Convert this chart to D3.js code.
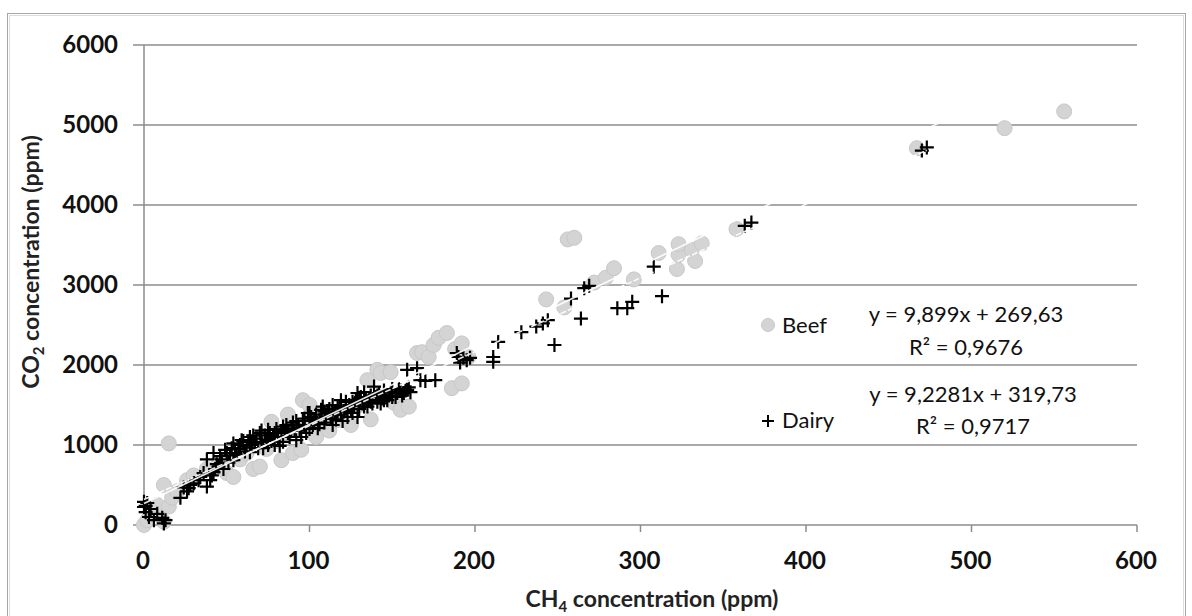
<!DOCTYPE html>
<html>
<head>
<meta charset="utf-8">
<script src="https://cdn.jsdelivr.net/npm/d3@7"></script>
<style>
body { margin: 0; background: #fff; }
text { font-family: Lato, "Open Sans", sans-serif; }
</style>
</head>
<body>
<div id="chart"></div>
<script>
// CH4 (x) vs CO2 (y)
var beef = [[0,0],[2,60],[8,250],[12,40],[12,500],[15,230],[17,340],[15,1020],[20,420],[26,560],
    [30,620],[38,700],[45,760],[50,650],[54,600],[58,820],[62,900],[66,700],[70,730],[74,950],
    [77,1290],[80,1050],[83,810],[86,1150],[87,1380],[90,900],[95,940],[96,1560],[98,1250],[100,1500],
    [104,1100],[108,1300],[112,1180],[117,1310],[120,1450],[125,1250],[130,1500],[135,1810],[137,1320],[141,1940],
    [143,1900],[149,1910],[151,1530],[155,1440],[160,1480],[165,2150],[168,2160],[172,2100],[175,2250],[178,2340],
    [183,2400],[186,1710],[188,2200],[192,1770],[192,2270],[196,2100],[243,2820],[254,2720],[256,3570],[260,3590],
    [272,3030],[279,3090],[284,3210],[296,3070],[311,3400],[322,3200],[323,3380],[323,3510],[331,3440],[333,3300],
    [337,3520],[358,3700],[467,4710],[520,4960],[556,5170]];

var dairy = [[0,290],[0,225],[1,160],[2,275],[3,100],[4,200],[6,60],[8,140],[11,90],[12,20],[13,60],[1,240],
    [22,340],[24,470],[27,460],[30,520],[34,600],[38,480],[40,560],[42,660],[42,900],[45,730],[47,820],[50,900],
    [52,870],[54,1020],[54,810],[57,950],[60,1050],[62,980],[64,1100],[64,910],[67,1020],[70,1150],[72,960],[75,1190],
    [75,1000],[78,1100],[80,1200],[82,990],[84,1230],[84,1040],[87,1150],[90,1280],[92,1060],[95,1100],[97,1330],[99,1400],
    [100,1200],[103,1300],[105,1210],[107,1440],[108,1480],[110,1350],[111,1400],[114,1500],[114,1250],[117,1420],[119,1560],
    [120,1300],[122,1540],[123,1350],[125,1450],[127,1500],[129,1650],[129,1350],[131,1600],[133,1660],[135,1480],[138,1520],
    [139,1730],[141,1540],[143,1600],[143,1520],[145,1560],[147,1560],[148,1620],[150,1600],[153,1650],[155,1680],[157,1650],
    [159,1690],[159,1940],[161,1660],[165,1960],[167,1810],[170,1800],[176,1810],[189,2150],[191,2030],[193,2090],[195,2060],
    [197,2090],[190,2100],[211,2040],[211,2100],[214,2290],[228,2410],[237,2480],[241,2520],[244,2560],[248,2250],[258,2830],
    [264,2580],[266,2960],[269,2990],[286,2710],[292,2710],[295,2790],[308,3230],[313,2860],[363,3740],[367,3780],[470,4680],
    [473,4720],
    [36,650],[44,760],[48,700],[56,880],[58,1000],[61,920],[65,1000],[68,1080],[71,1040],[73,1120],[77,1050],[79,1150],
    [81,1100],[85,1180],[88,1100],[91,1180],[93,1250],[96,1300],[98,1150],[101,1350],[102,1250],[106,1320],[109,1280],
    [112,1450],[115,1380],[116,1320],[118,1460],[121,1420],[124,1500],[126,1400],[128,1560],[130,1450],[132,1520],[134,1580],
    [136,1560],[137,1620],[140,1600],[142,1650],[144,1580],[146,1620],[149,1660],[152,1600],[154,1700],[156,1620],[158,1680],[160,1720],
    [46,860],[49,940],[51,780],[53,960],[55,900],[59,1060],[63,1040],[66,1120],[69,960],[71,1180],[74,1060],[76,1150],
    [79,1000],[83,1170],[86,1250],[89,1200],[92,1300],[94,1180],[97,1230],[100,1400],[104,1380],[106,1260],[109,1420],
    [113,1330],[117,1480],[119,1380],[122,1460],[126,1540],[130,1580],[133,1480],[137,1540],[141,1620],[145,1680],[150,1700],
    [38,820],[41,620],[33,560],[28,500],[26,420],[43,700]];

var xTicks = [0,100,200,300,400,500,600];
var yTicks = [0,1000,2000,3000,4000,5000,6000];
var beefFit = {slope: 9.899, intercept: 269.63, xmin: 0, xmax: 556};
var dairyFit = {slope: 9.2281, intercept: 319.73, xmin: 0, xmax: 473};
var beefEq = ["y = 9,899x + 269,63", "R² = 0,9676"];
var dairyEq = ["y = 9,2281x + 319,73", "R² = 0,9717"];

var W = 1192, H = 616;
var margin = {top: 45, right: 55, bottom: 91, left: 144},
    width = 1137 - margin.left,
    height = 525 - margin.top;

var svg = d3.select("#chart").append("svg")
    .attr("width", W)
    .attr("height", H);

// chart frame
svg.append("rect")
    .attr("x", 7.5).attr("y", 13.5)
    .attr("width", 1178).attr("height", 640)
    .attr("fill", "none").attr("stroke", "#a6a6a6").attr("stroke-width", 1);
svg.append("rect")
    .attr("x", 9.5).attr("y", 15.5)
    .attr("width", 1174).attr("height", 640)
    .attr("fill", "none").attr("stroke", "#dcdcdc").attr("stroke-width", 1);

var g = svg.append("g")
    .attr("transform", "translate(" + margin.left + "," + margin.top + ")");

var xScale = d3.scaleLinear().domain([0, 600]).range([0, width]);
var yScale = d3.scaleLinear().domain([0, 6000]).range([height, 0]);

// gridlines
g.selectAll(".grid")
    .data(yTicks)
    .enter().append("line")
    .attr("class", "grid")
    .attr("x1", -11).attr("x2", width)
    .attr("y1", d => yScale(d)).attr("y2", d => yScale(d))
    .attr("stroke", "#8c8c8c").attr("stroke-width", 1.5);

// y axis line
g.append("line")
    .attr("x1", 0).attr("x2", 0)
    .attr("y1", 0).attr("y2", height)
    .attr("stroke", "#8c8c8c").attr("stroke-width", 1.5);

// x ticks
g.selectAll(".xtick")
    .data(xTicks)
    .enter().append("line")
    .attr("x1", d => xScale(d)).attr("x2", d => xScale(d))
    .attr("y1", height).attr("y2", height + 7)
    .attr("stroke", "#8c8c8c").attr("stroke-width", 1.5);

g.selectAll(".xlab")
    .data(xTicks)
    .enter().append("text")
    .attr("x", d => xScale(d) - 1)
    .attr("y", height + 44)
    .attr("text-anchor", "middle")
    .attr("font-size", 24).attr("font-weight", 700).attr("fill", "#111")
    .text(d => d);

g.selectAll(".ylab")
    .data(yTicks)
    .enter().append("text")
    .attr("x", -26)
    .attr("y", d => yScale(d) + 8)
    .attr("text-anchor", "end")
    .attr("font-size", 24).attr("font-weight", 700).attr("fill", "#111")
    .text(d => d);

// axis titles
svg.append("text")
    .attr("x", 652).attr("y", 607)
    .attr("text-anchor", "middle")
    .attr("font-size", 23).attr("font-weight", 700).attr("fill", "#222")
    .html('CH<tspan font-size="15" dy="5">4</tspan><tspan dy="-5"> concentration (ppm)</tspan>');

svg.append("text")
    .attr("transform", "translate(39,262) rotate(-90)")
    .attr("text-anchor", "middle")
    .attr("font-size", 23).attr("font-weight", 700).attr("fill", "#222")
    .html('CO<tspan font-size="15" dy="5">2</tspan><tspan dy="-5"> concentration (ppm)</tspan>');

// beef circles
g.selectAll(".beef")
    .data(beef)
    .enter().append("circle")
    .attr("class", "beef")
    .attr("cx", d => xScale(d[0]))
    .attr("cy", d => yScale(d[1]))
    .attr("r", 7.5)
    .attr("fill", "#d4d4d4")
    .attr("stroke", "#c8c8c8").attr("stroke-width", 1);

// dairy pluses
var plus = "M-7,0H7M0,-7V7";
g.selectAll(".dairy")
    .data(dairy)
    .enter().append("path")
    .attr("class", "dairy")
    .attr("d", plus)
    .attr("transform", d => "translate(" + xScale(d[0]) + "," + yScale(d[1]) + ")")
    .attr("stroke", "#000").attr("stroke-width", 2.2).attr("fill", "none");

// trendlines
function fitLine(f, dash) {
    g.append("line")
        .attr("x1", xScale(f.xmin)).attr("y1", yScale(f.slope * f.xmin + f.intercept))
        .attr("x2", xScale(f.xmax)).attr("y2", yScale(f.slope * f.xmax + f.intercept))
        .attr("stroke", "#fff").attr("stroke-width", 1.6)
        .attr("stroke-opacity", 0.9)
        .attr("stroke-dasharray", dash);
}
fitLine(beefFit, null);
fitLine(dairyFit, "6,2");

// legend
svg.append("circle")
    .attr("cx", 768).attr("cy", 325).attr("r", 6.5)
    .attr("fill", "#d4d4d4").attr("stroke", "#c8c8c8");
svg.append("text")
    .attr("x", 782).attr("y", 333)
    .attr("font-size", 22).attr("fill", "#111")
    .text("Beef");
svg.append("path")
    .attr("d", "M-6,0H6M0,-6V6")
    .attr("transform", "translate(768,421)")
    .attr("stroke", "#000").attr("stroke-width", 2);
svg.append("text")
    .attr("x", 782).attr("y", 428)
    .attr("font-size", 22).attr("fill", "#111")
    .text("Dairy");

function eqText(lines, cx, y1, y2) {
    svg.append("text").attr("x", cx).attr("y", y1)
        .attr("text-anchor", "middle").attr("font-size", 22).attr("fill", "#111")
        .text(lines[0]);
    svg.append("text").attr("x", cx).attr("y", y2)
        .attr("text-anchor", "middle").attr("font-size", 22).attr("fill", "#111")
        .text(lines[1]);
}
eqText(beefEq, 966, 322, 355);
eqText(dairyEq, 973, 402, 434);
</script>
</body>
</html>
